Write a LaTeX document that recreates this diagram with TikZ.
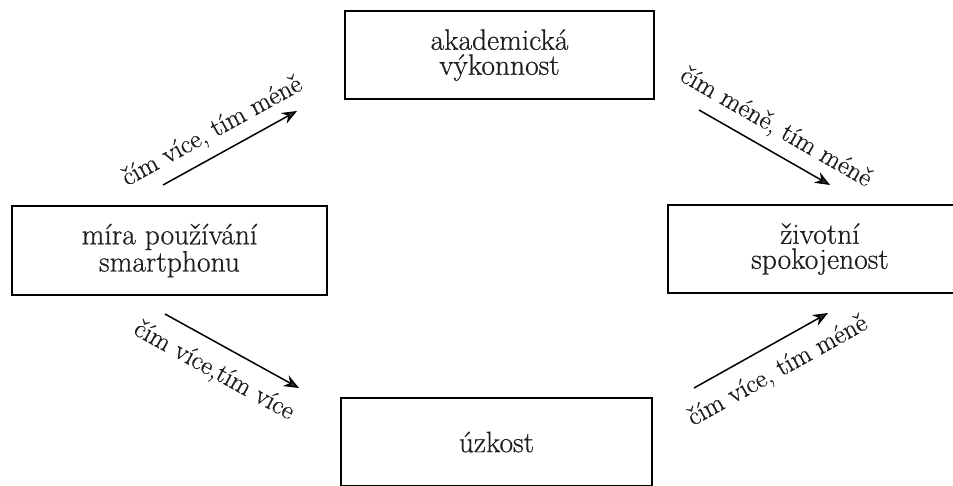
\documentclass[tikz,border=0pt]{standalone}
\usepackage{fontspec}
\setmainfont{Latin Modern Roman}[FakeBold=0.6]
\usetikzlibrary{arrows.meta}
\definecolor{tipbrown}{HTML}{3B2E22}
\definecolor{ink}{HTML}{1E1E1E}
\begin{document}
\begin{tikzpicture}[x=1pt,y=-1pt,
  box/.style={draw=black, line width=1.6pt, inner sep=0pt, align=center, text=ink,
    font=\fontsize{29.5}{25}\selectfont},
  conn/.style={line width=1.5pt, -{Stealth[length=15pt,width=12pt,fill=tipbrown]}},
  lab/.style={sloped, anchor=base, inner sep=0pt, text=ink, font=\fontsize{26.5}{25}\selectfont}]
\useasboundingbox (0,0) rectangle (953,485);
\clip (0,0) rectangle (953,485);
% boxes
\node[box, minimum width=315pt, minimum height=89pt] (use) at (169.5,250.5) {míra používání\\smartphonu};
\node[box, minimum width=309pt, minimum height=88pt] (acad) at (499.5,55) {akademická\\výkonnost};
\node[box, minimum width=304pt, minimum height=88pt] (life) at (820,249) {životní\\spokojenost};
\node[box, minimum width=311pt, minimum height=88pt] (anx) at (496.5,442) {úzkost};
% arrow end points
\coordinate (a1s) at (163,185); \coordinate (a1e) at (297,111);
\coordinate (a2s) at (699,110); \coordinate (a2e) at (830,185);
\coordinate (a3s) at (165,314); \coordinate (a3e) at (299,388);
\coordinate (a4s) at (694,388); \coordinate (a4e) at (828,313);
% connectors
\draw[conn] (a1s) -- node[lab, pos=0.45, yshift=16pt] {čím více, tím méně} (a1e);
\draw[conn] (a2s) -- node[lab, pos=0.5, yshift=16pt] {čím méně, tím méně} (a2e);
\draw[conn] (a3s) -- node[lab, pos=0.46, yshift=-33pt] {čím více,tím více} (a3e);
\draw[conn] (a4s) -- node[lab, pos=0.53, yshift=-33pt] {čím více, tím méně} (a4e);
\end{tikzpicture}
\end{document}
